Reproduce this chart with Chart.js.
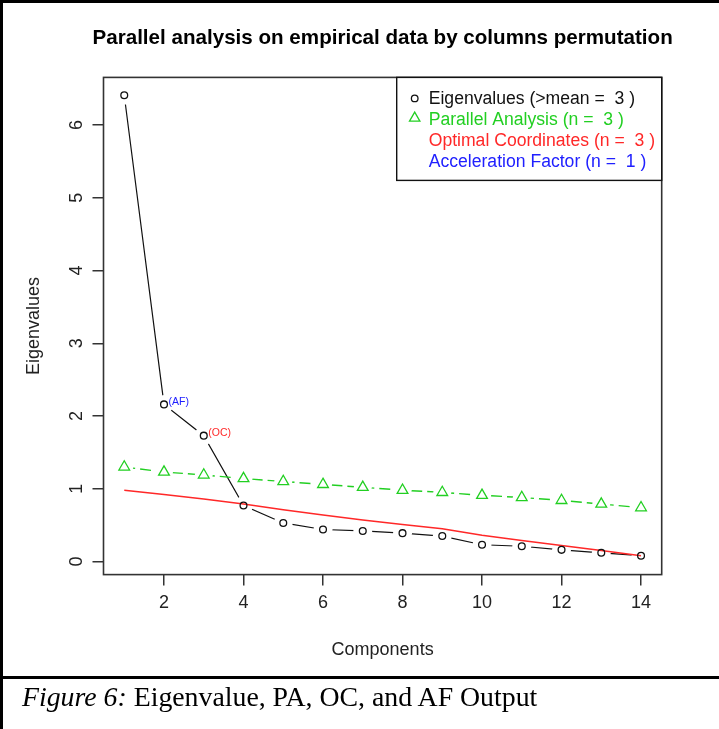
<!DOCTYPE html>
<html><head><meta charset="utf-8">
<script src="https://cdn.jsdelivr.net/npm/chart.js@4.4.0/dist/chart.umd.min.js"></script>
<style>
html,body{margin:0;padding:0;background:#fff;}
#wrap{position:relative;width:719px;height:729px;overflow:hidden;background:#fff;}
#c{position:absolute;left:0;top:0;}
.bl{position:absolute;background:#000;}
#cap{position:absolute;left:22px;top:680px;font-family:"Liberation Serif","Times New Roman",serif;font-size:27.8px;line-height:34px;color:#000;white-space:nowrap;}
</style></head><body>
<div id="wrap">
<canvas id="c" width="719" height="729"></canvas>
<div class="bl" style="left:0;top:0;width:3px;height:729px"></div>
<div class="bl" style="left:0;top:0;width:719px;height:3px"></div>
<div class="bl" style="left:0;top:676px;width:719px;height:3px"></div>
<div id="cap"><i>Figure 6:</i> Eigenvalue, PA, OC, and AF Output</div>
</div>
<script>
// ---- data ----
const components = [1,2,3,4,5,6,7,8,9,10,11,12,13,14];
const eigenvalues = [6.41,2.16,1.73,0.77,0.53,0.44,0.42,0.39,0.35,0.23,0.21,0.16,0.12,0.08];
const parallelAnalysis = [1.30,1.23,1.19,1.14,1.10,1.06,1.02,0.98,0.95,0.91,0.88,0.84,0.79,0.74];
const optimalCoordinates = [0.98,0.92,0.86,0.79,0.71,0.64,0.57,0.51,0.45,0.36,0.29,0.22,0.15,0.08];
const xTicks = [2,4,6,8,10,12,14];
const yTicks = [0,1,2,3,4,5,6];
const legendLabels = ["Eigenvalues (>mean =  3 )","Parallel Analysis (n =  3 )","Optimal Coordinates (n =  3 )","Acceleration Factor (n =  1 )"];
const annotationText = ["(AF)","(OC)"];
const annotationComponent = [2,3];
const titleText = "Parallel analysis on empirical data by columns permutation";
const xTitle = "Components";
const yTitle = "Eigenvalues";

// ---- styles ----
const FONT = '"Liberation Sans", Arial, Helvetica, sans-serif';
const GREEN = '#22cf22', RED = '#ff2828', BLUE = '#2020ff', BLACK = '#111';
const AXIS = '#333';
const legendColors = [BLACK, GREEN, RED, BLUE];
const annColors = [BLUE, RED];

const pts = arr => components.map((c,i)=>({x:c, y:arr[i]}));

const boxPlugin = {
  id:'rbox',
  afterDatasetsDraw(chart){
    const {ctx, chartArea:ca, scales} = chart;
    ctx.save();
    // annotations
    ctx.font = '10.5px ' + FONT;
    ctx.textAlign = 'left'; ctx.textBaseline = 'middle';
    annotationComponent.forEach((c,i)=>{
      const px = scales.x.getPixelForValue(c);
      const py = scales.y.getPixelForValue(eigenvalues[c-1]);
      ctx.fillStyle = annColors[i];
      ctx.fillText(annotationText[i], px+4.5, py-2.5);
    });
    // plot box
    ctx.strokeStyle = AXIS; ctx.lineWidth = 1.6;
    ctx.strokeRect(ca.left, ca.top, ca.right-ca.left, ca.bottom-ca.top);
    ctx.restore();
  },
  afterDraw(chart){
    const {ctx, chartArea:ca, scales} = chart;
    ctx.save();
    // main title centred over the plot region (R style)
    ctx.font = 'bold 20.6px ' + FONT;
    ctx.fillStyle = '#000';
    ctx.textAlign = 'center'; ctx.textBaseline = 'middle';
    ctx.fillText(titleText, (ca.left + ca.right)/2, 38.5);
    // y tick labels (rotated, R style)
    ctx.font = '18px ' + FONT;
    ctx.fillStyle = '#222';
    yTicks.forEach(v=>{
      const py = scales.y.getPixelForValue(v);
      ctx.save(); ctx.translate(77.5, py); ctx.rotate(-Math.PI/2);
      ctx.fillText(String(v), 0, 0); ctx.restore();
    });
    // legend
    const bw = 265, bh = 103;
    const bx = ca.right - bw, by = ca.top;
    ctx.fillStyle = '#fff';
    ctx.fillRect(bx, by, bw, bh);
    ctx.strokeStyle = '#111'; ctx.lineWidth = 1.4;
    ctx.strokeRect(bx, by, bw, bh);
    ctx.textAlign = 'left'; ctx.textBaseline = 'middle';
    ctx.font = '17.6px ' + FONT;
    legendLabels.forEach((t,i)=>{
      const ry = by + 22 + i*20.75;
      ctx.fillStyle = legendColors[i];
      ctx.fillText(t, bx + 32, ry);
    });
    // legend symbols
    ctx.lineWidth = 1.3;
    ctx.strokeStyle = BLACK;
    ctx.beginPath(); ctx.arc(bx+18, by+21, 3.3, 0, Math.PI*2); ctx.stroke();
    ctx.strokeStyle = GREEN;
    const tx = bx+18, ty = by + 22 + 20.75 - 2, r = 6;
    ctx.beginPath();
    ctx.moveTo(tx, ty - r);
    ctx.lineTo(tx + r*Math.sin(2*Math.PI/3), ty - r*Math.cos(2*Math.PI/3));
    ctx.lineTo(tx + r*Math.sin(4*Math.PI/3), ty - r*Math.cos(4*Math.PI/3));
    ctx.closePath(); ctx.stroke();
    ctx.restore();
  }
};

new Chart(document.getElementById('c'), {
  type:'line',
  data:{ datasets:[
    {label:'eigLine', data:pts(eigenvalues), borderColor:BLACK, borderWidth:1.2, pointRadius:0, fill:false, tension:0, order:7},
    {label:'paLine', data:pts(parallelAnalysis), borderColor:GREEN, borderWidth:1.4, borderDash:[11,5], pointRadius:0, fill:false, tension:0, order:6},
    {label:'eigMask', data:pts(eigenvalues), showLine:false, pointRadius:9.5, pointBorderWidth:0, pointBackgroundColor:'#fff', pointBorderColor:'#fff', order:5},
    {label:'paMask', data:pts(parallelAnalysis), showLine:false, pointRadius:9, pointBorderWidth:0, pointBackgroundColor:'#fff', pointBorderColor:'#fff', order:4},
    {label:'ocLine', data:pts(optimalCoordinates), borderColor:RED, borderWidth:1.5, pointRadius:0, fill:false, tension:0, order:3},
    {label:'eigPts', data:pts(eigenvalues), showLine:false, pointStyle:'circle', pointRadius:3.4, pointBorderWidth:1.3, pointBorderColor:BLACK, pointBackgroundColor:'rgba(0,0,0,0)', order:2},
    {label:'paPts', data:pts(parallelAnalysis), showLine:false, pointStyle:'triangle', pointRadius:6.2, pointBorderWidth:1.3, pointBorderColor:GREEN, pointBackgroundColor:'rgba(0,0,0,0)', order:1}
  ]},
  options:{
    responsive:false, animation:false, events:[],
    layout:{padding:{left:0, right:57.3, top:77.4, bottom:52}},
    plugins:{
      legend:{display:false}, tooltip:{enabled:false}, title:{display:false}
    },
    scales:{
      x:{type:'linear', min:0.478, max:14.52,
        afterBuildTicks:s=>{s.ticks = xTicks.map(v=>({value:v}));},
        afterFit:s=>{s.height = 102.4;},
        border:{display:false},
        grid:{display:true, drawOnChartArea:false, drawTicks:true, tickLength:11, color:AXIS, lineWidth:1.5},
        ticks:{font:{family:FONT, size:18}, color:'#222', padding:7, maxRotation:0, autoSkip:false},
        title:{display:true, text:xTitle, color:'#222', font:{family:FONT, size:18}, padding:{top:0, bottom:16.2}}
      },
      y:{type:'linear', min:-0.18, max:6.655,
        afterBuildTicks:s=>{s.ticks = yTicks.map(v=>({value:v}));},
        afterFit:s=>{s.width = 103.5;},
        border:{display:false},
        grid:{display:true, drawOnChartArea:false, drawTicks:true, tickLength:11, color:AXIS, lineWidth:1.5},
        ticks:{display:false},
        title:{display:true, text:yTitle, color:'#222', font:{family:FONT, size:18}, padding:{top:23.2, bottom:0}}
      }
    }
  },
  plugins:[boxPlugin]
});
</script>
</body></html>
